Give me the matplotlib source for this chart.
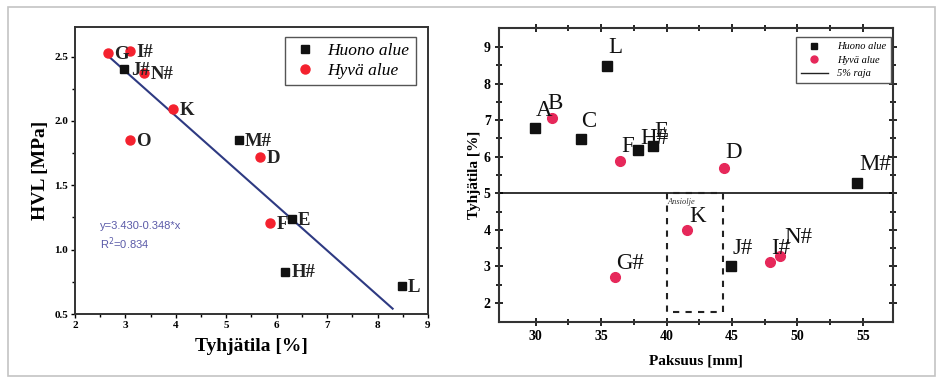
import numpy as np
import matplotlib
matplotlib.use("Agg")
import matplotlib.pyplot as plt
from matplotlib.patches import Rectangle
from matplotlib.lines import Line2D

plt.rcParams['font.family'] = ['Liberation Serif', 'DejaVu Serif']

# left chart: HVL vs void content
l_huono_lbl = ["J#", "M#", "E", "H#", "L"]
l_huono_x = [2.98, 5.25, 6.30, 6.17, 8.48]
l_huono_y = [2.40, 1.85, 1.24, 0.83, 0.72]

l_hyva_lbl = ["G", "I#", "N#", "K", "O", "D", "F"]
l_hyva_x = [2.66, 3.09, 3.37, 3.95, 3.09, 5.67, 5.87]
l_hyva_y = [2.53, 2.54, 2.37, 2.09, 1.85, 1.72, 1.21]

fit_a, fit_b, fit_r2 = 3.430, -0.348, 0.834
fit_x = [2.65, 8.3]

# right chart: void content vs thickness
r_huono_lbl = ["A", "L", "C", "H#", "E", "J#", "M#"]
r_huono_x = [29.92, 35.43, 33.44, 37.80, 38.94, 44.91, 54.54]
r_huono_y = [6.79, 8.48, 6.48, 6.18, 6.29, 3.01, 5.28]

r_hyva_lbl = ["B", "F", "D", "K", "G#", "I#", "N#"]
r_hyva_x = [31.22, 36.42, 44.37, 41.54, 36.04, 47.89, 48.65]
r_hyva_y = [7.06, 5.88, 5.69, 4.00, 2.71, 3.12, 3.28]

raja = 5.0
box_x = [40.0, 44.3]
box_y = [1.75, 5.0]

# label offsets in points
r_huono_off = [(1, 5), (1, 6), (0, 5), (2, 1), (1, 3), (1, 5), (2, 6)]
r_hyva_off = [(-3, 3), (1, 3), (1, 4), (2, 2), (1, 2), (1, 2), (3, 6)]

BLACK = "#111111"
RED_L = "#f4212e"
RED_R = "#e6285a"
BLUE = "#2e3a82"

fig = plt.figure(figsize=(9.43, 3.85), dpi=100)
fig.patches.append(Rectangle((8 / 943, 9 / 385), 927 / 943, 369 / 385,
                             transform=fig.transFigure, fill=False,
                             edgecolor="#c4c4c4", lw=1.2))

# ---- left
ax1 = fig.add_axes([0.0795, 0.1844, 0.3743, 0.7455])
ax1.plot(fit_x, [fit_a + fit_b * x for x in fit_x], color=BLUE, lw=1.5, zorder=2)
ax1.plot(l_huono_x, l_huono_y, "s", color=BLACK, ms=5.5, zorder=3)
ax1.plot(l_hyva_x, l_hyva_y, "o", color=RED_L, ms=6.5, zorder=3)
for lb, x, y in zip(l_huono_lbl + l_hyva_lbl, l_huono_x + l_hyva_x, l_huono_y + l_hyva_y):
    ax1.annotate(lb, (x, y), xytext=(4.5, -1), textcoords="offset points",
                 fontsize=13.5, fontweight="bold", va="center", ha="left", color="#222222")
ax1.text(2.5, 1.16, "y=%.3f%.3f*x" % (fit_a, fit_b), color="#5a5aa8", fontsize=8,
         family=["Liberation Sans", "DejaVu Sans"])
ax1.text(2.5, 1.01, "R$^2$=%.3f" % fit_r2, color="#5a5aa8", fontsize=8,
         family=["Liberation Sans", "DejaVu Sans"])
ax1.set_xlim(2, 9)
ax1.set_ylim(0.5, 2.73)
ax1.set_xticks(range(2, 10))
ax1.set_yticks([0.5, 1.0, 1.5, 2.0, 2.5])
ax1.set_xticks(np.arange(2.5, 9, 1), minor=True)
ax1.set_yticks(np.arange(0.75, 2.7, 0.5), minor=True)
ax1.tick_params(which="both", direction="out", length=3, width=1, labelsize=8, pad=2)
ax1.tick_params(which="minor", length=2)
for t in ax1.get_xticklabels() + ax1.get_yticklabels():
    t.set_fontweight("bold")
ax1.set_xlabel("Tyhjätila [%]", fontsize=14, fontweight="bold", labelpad=6)
ax1.set_ylabel("HVL [MPa]", fontsize=14, fontweight="bold", labelpad=4)
for s in ax1.spines.values():
    s.set_linewidth(1.4)
    s.set_color("#333333")
h1 = [Line2D([], [], ls="none", marker="s", color=BLACK, ms=5.5),
      Line2D([], [], ls="none", marker="o", color=RED_L, ms=6.5)]
ax1.legend(h1, ["Huono alue", "Hyvä alue"], loc="upper right", prop={"style": "italic", "size": 12.5},
           fancybox=False, edgecolor="#555555", framealpha=1, handletextpad=0.5,
           handlelength=1.6, borderpad=0.35, labelspacing=0.2, borderaxespad=0,
           bbox_to_anchor=(0.965, 0.965))

# ---- right
ax2 = fig.add_axes([0.5292, 0.1636, 0.4178, 0.7636])
ax2.axhline(raja, color="#222222", lw=1.3, zorder=1)
ax2.plot([box_x[0], box_x[0], box_x[1], box_x[1], box_x[0]],
         [box_y[1], box_y[0], box_y[0], box_y[1], box_y[1]],
         ls=(0, (3, 3)), color="#222222", lw=1.5, zorder=1)
ax2.text(box_x[0] + 0.1, box_y[1] - 0.12, "Ansiolje", style="italic", fontsize=6,
         va="top", ha="left", color="#333333")
ax2.plot(r_huono_x, r_huono_y, "s", color=BLACK, ms=6.5, zorder=3)
ax2.plot(r_hyva_x, r_hyva_y, "o", color=RED_R, ms=7, zorder=3)
for lb, x, y, off in zip(r_huono_lbl + r_hyva_lbl, r_huono_x + r_hyva_x,
                         r_huono_y + r_hyva_y, r_huono_off + r_hyva_off):
    ax2.annotate(lb, (x, y), xytext=off, textcoords="offset points",
                 fontsize=16.5, va="bottom", ha="left", color="#111111")
ax2.set_xlim(27.2, 57.3)
ax2.set_ylim(1.48, 9.52)
ax2.set_xticks(range(30, 56, 5))
ax2.set_xticks(np.arange(32.5, 57, 5), minor=True)
ax2.set_yticks(range(2, 10))
ax2.set_yticks(np.arange(2.5, 9.5, 1), minor=True)
ax2.tick_params(which="both", direction="inout", length=6, width=1.2, labelsize=10,
                top=True, right=True, pad=3)
ax2.tick_params(which="minor", length=4)
for t in ax2.get_xticklabels() + ax2.get_yticklabels():
    t.set_fontweight("bold")
ax2.set_xlabel("Paksuus [mm]", fontsize=11, fontweight="bold", labelpad=8)
ax2.set_ylabel("Tyhjätila [%]", fontsize=11, fontweight="bold", labelpad=2)
for s in ax2.spines.values():
    s.set_linewidth(1.5)
    s.set_color("#333333")
h2 = [Line2D([], [], ls="none", marker="s", color=BLACK, ms=5),
      Line2D([], [], ls="none", marker="o", color=RED_R, ms=5),
      Line2D([], [], color="#222222", lw=1)]
ax2.legend(h2, ["Huono alue", "Hyvä alue", "5% raja"], loc="upper right",
           prop={"style": "italic", "size": 7.5}, fancybox=False, edgecolor="#555555",
           framealpha=1, handlelength=2.6, handletextpad=0.9, borderpad=0.45,
           labelspacing=0.4, borderaxespad=0.2, bbox_to_anchor=(1.0, 0.975))

fig.savefig("out.png", dpi=100)
